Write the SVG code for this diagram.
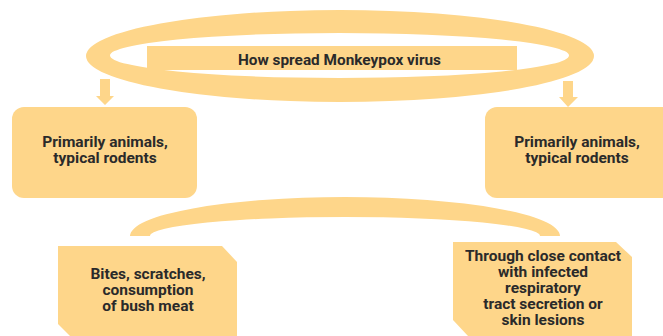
<svg xmlns="http://www.w3.org/2000/svg" width="663" height="336" viewBox="0 0 663 336">
<style>
.f{fill:#FED68A;}
.t{font-family:Roboto,"Liberation Sans",sans-serif;font-weight:bold;font-size:15.5px;fill:#2a2a2a;text-anchor:middle;}
</style>
<rect width="663" height="336" fill="#ffffff"/>
<g id="title">
<path class="f" fill-rule="evenodd" d="M86,56 A254,46 0 1 0 594,56 A254,46 0 1 0 86,56 Z M110,55.5 A229.5,22.5 0 1 1 569,55.5 A229.5,22.5 0 1 1 110,55.5 Z"/>
<rect class="f" x="147" y="46" width="370" height="24"/>
<text class="t" x="339.5" y="65" textLength="203" lengthAdjust="spacingAndGlyphs">How spread Monkeypox virus</text>
</g>
<g id="connectors">
<path class="f" d="M100,79 H110 V96 H114 L105,105 L96,96 H100 Z"/>
<path class="f" d="M563,81 H573 V97 H578 L568,107 L559,97 H563 Z"/>
<path class="f" d="M130,236 A215,39 0 0 1 560,236 L540,236 A195,19 0 0 0 150,236 Z"/>
</g>
<g id="left-box">
<rect class="f" x="12" y="107" width="185" height="91" rx="12"/>
<text class="t" x="105" y="147">Primarily animals,</text>
<text class="t" x="105" y="163">typical rodents</text>
</g>
<g id="right-box">
<rect class="f" x="485" y="107" width="195" height="91" rx="12"/>
<text class="t" x="577" y="147">Primarily animals,</text>
<text class="t" x="577" y="163">typical rodents</text>
</g>
<g id="bottom-left-box">
<path class="f" d="M58,246 H222 L237,262 V336 H70 L58,324 Z"/>
<text class="t" x="148" y="279">Bites, scratches,</text>
<text class="t" x="148" y="295">consumption</text>
<text class="t" x="148" y="311">of bush meat</text>
</g>
<g id="bottom-right-box">
<path class="f" d="M453,242 H616 L632,257 V336 H468 L453,320 Z"/>
<text class="t" x="543" y="261">Through close contact</text>
<text class="t" x="543" y="277">with infected</text>
<text class="t" x="543" y="293">respiratory</text>
<text class="t" x="543" y="309">tract secretion or</text>
<text class="t" x="543" y="325">skin lesions</text>
</g>
</svg>
